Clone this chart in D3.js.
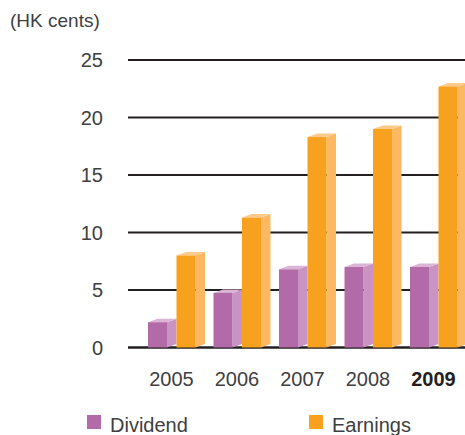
<!DOCTYPE html>
<html>
<head>
<meta charset="utf-8">
<script src="https://cdn.jsdelivr.net/npm/d3@7"></script>
<style>
    body { margin: 0; background: #fff; }
    svg { display: block; }
</style>
</head>
<body>
<svg id="chart"></svg>
<script>
const years = ["2005", "2006", "2007", "2008", "2009"];
const series = ["Dividend", "Earnings"];
const dividend = [2.2, 4.75, 6.8, 7.0, 7.0];
const earnings = [8.0, 11.3, 18.3, 19.0, 22.7];
const yTicks = [0, 5, 10, 15, 20, 25];

const width = 465;
const height = 435;
const font = "'Liberation Sans', Arial, Helvetica, sans-serif";
const textColor = "#404040";

const colors = {
    Dividend: { front: "#b36aa8", side: "#c994c3", top: "#dab5d5" },
    Earnings: { front: "#f7a11e", side: "#fdb862", top: "#fecb8c" },
};

const svg = d3
    .select("#chart")
    .attr("width", width)
    .attr("height", height)
    .attr("viewBox", [0, 0, width, height]);

const x = d3.scaleBand().domain(years).range([148, 475.5]).padding(0);
const xs = d3.scaleBand().domain(series).range([0, 57]).padding(0);
const y = d3.scaleLinear().domain([0, 25]).range([347.5, 60]);

const frontW = 19;
const depthX = 9.5;
const depthY = 3.5;

// gridlines
svg.append("g")
    .selectAll("line")
    .data(yTicks)
    .join("line")
    .attr("x1", 128)
    .attr("x2", width)
    .attr("y1", (d) => y(d))
    .attr("y2", (d) => y(d))
    .attr("stroke", "#231f20")
    .attr("stroke-width", (d) => (d == 0 ? 2.5 : 2));

// tick labels
svg.append("g")
    .selectAll("text")
    .data(yTicks)
    .join("text")
    .attr("x", 103)
    .attr("y", (d) => y(d))
    .attr("dy", "0.35em")
    .attr("text-anchor", "end")
    .style("font-family", font)
    .style("font-size", "20px")
    .style("fill", textColor)
    .text((d) => d);

svg.append("text")
    .attr("x", 10)
    .attr("y", 27)
    .style("font-family", font)
    .style("font-size", "19px")
    .style("fill", textColor)
    .text("(HK cents)");

// 3d bars
const rows = [];
years.forEach((yr, i) => {
    rows.push({ year: yr, key: "Dividend", value: dividend[i] });
    rows.push({ year: yr, key: "Earnings", value: earnings[i] });
});

const bar = svg.append("g")
    .selectAll("g")
    .data(rows)
    .join("g")
    .attr("transform", (d) => `translate(${x(d.year) + xs(d.key)},0)`);

// side face
bar.append("path")
    .attr("fill", (d) => colors[d.key].side)
    .attr("d", (d) => {
        const y0 = y(0), y1 = y(d.value);
        return `M${frontW},${y1} L${frontW + depthX},${y1 - depthY} L${frontW + depthX},${y0 - depthY} L${frontW},${y0} Z`;
    });

// top face
bar.append("path")
    .attr("fill", (d) => colors[d.key].top)
    .attr("d", (d) => {
        const y1 = y(d.value);
        return `M0,${y1} L${depthX},${y1 - depthY} L${frontW + depthX},${y1 - depthY} L${frontW},${y1} Z`;
    });

// front face
bar.append("rect")
    .attr("x", 0)
    .attr("y", (d) => y(d.value))
    .attr("width", frontW)
    .attr("height", (d) => y(0) - y(d.value))
    .attr("fill", (d) => colors[d.key].front);

// year labels
svg.append("g")
    .selectAll("text")
    .data(years)
    .join("text")
    .attr("x", (d) => x(d) + 23.5)
    .attr("y", 386)
    .attr("text-anchor", "middle")
    .style("font-family", font)
    .style("font-size", "20px")
    .style("font-weight", (d) => (d == "2009" ? "bold" : "normal"))
    .style("fill", (d) => (d == "2009" ? "#231f20" : textColor))
    .text((d) => d);

// legend
const legendX = [87, 309];
const legend = svg.append("g")
    .selectAll("g")
    .data(series)
    .join("g")
    .attr("transform", (d, i) => `translate(${legendX[i]},415)`);

legend.append("rect")
    .attr("width", 14)
    .attr("height", 14)
    .attr("fill", (d) => colors[d].front);

legend.append("text")
    .attr("x", 23)
    .attr("y", 17)
    .style("font-family", font)
    .style("font-size", "20px")
    .style("fill", textColor)
    .text((d) => d);
</script>
</body>
</html>
